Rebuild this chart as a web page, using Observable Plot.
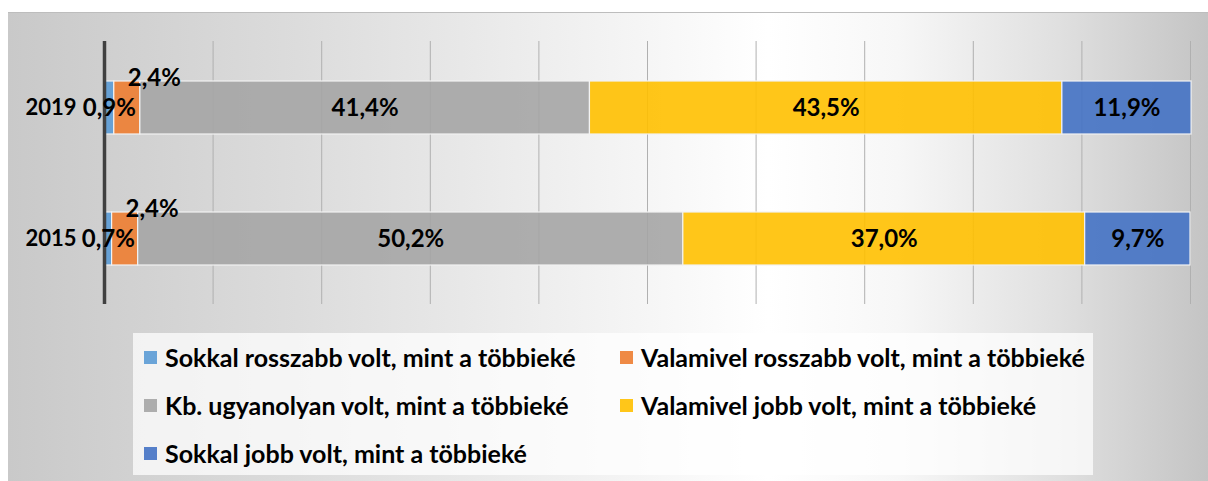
<!DOCTYPE html>
<html><head><meta charset="utf-8">
<script src="https://cdn.jsdelivr.net/npm/d3@7"></script>
<script src="https://cdn.jsdelivr.net/npm/@observablehq/plot@0.6"></script>
<style>
html,body{margin:0;padding:0;background:#fff;}
#wrap{position:relative;width:1208px;height:481px;overflow:hidden;font-family:Lato, sans-serif;}
#frame{position:absolute;left:8px;top:12px;width:1200px;height:469px;border-top:1px solid #bdbdbd;
  background:linear-gradient(to right,#c9c9c9 0px,#dcdcdc 290px,#f2f2f2 590px,#ffffff 760px,#f7f7f7 890px,#e0e0e0 1050px,#c4c4c4 1200px);}
#chart{position:absolute;left:0;top:0;}
#legend{position:absolute;left:133px;top:333px;width:949px;height:142px;padding-left:11px;
  background:rgba(255,255,255,0.72);display:grid;grid-template-columns:476px 1fr;grid-auto-rows:48px;align-items:center;}
.item{display:flex;align-items:center;font-weight:700;font-size:25px;color:#000;white-space:nowrap;}
.sw{width:13px;height:13px;margin-right:8px;flex:none;}
</style></head>
<body>
<div id="wrap"><div id="frame"></div><div id="chart"></div><div id="legend"></div></div>
<script>
const years = ["2019", "2015"];
const categories = [
  "Sokkal rosszabb volt, mint a többieké",
  "Valamivel rosszabb volt, mint a többieké",
  "Kb. ugyanolyan volt, mint a többieké",
  "Valamivel jobb volt, mint a többieké",
  "Sokkal jobb volt, mint a többieké"
];
const values2019 = [0.9, 2.4, 41.4, 43.5, 11.9];
const values2015 = [0.7, 2.4, 50.2, 37.0, 9.7];
const colors = ["#5B9BD5", "#ED7D31", "#A5A5A5", "#FFC000", "#4472C4"];
const xTicks = [0, 10, 20, 30, 40, 50, 60, 70, 80, 90, 100];

const valuesByYear = {"2019": values2019, "2015": values2015};
const data = years.flatMap(y => categories.map((c, i) => ({year: y, cat: c, value: valuesByYear[y][i]})));
const fmt = v => v.toFixed(1).replace(".", ",") + "%";
const labelFont = {fontSize: 24, fontWeight: 700, fill: "#000", fontFamily: "Lato"};

const chart = Plot.plot({
  width: 1208, height: 330,
  marginLeft: 104, marginRight: 18, marginTop: 41, marginBottom: 26,
  style: {background: "transparent", fontFamily: "Lato", color: "#000", overflow: "visible"},
  x: {domain: [0, 100], axis: null},
  y: {domain: years, paddingInner: 0.597, paddingOuter: 0.2985, label: null, axis: null},
  color: {domain: categories, range: colors},
  marks: [
    Plot.ruleX(xTicks.slice(1), {stroke: "#b0b0b0", strokeWidth: 1}),
    Plot.barX(data, Plot.stackX({x: "value", y: "year", fill: "cat", fillOpacity: 0.9, stroke: "#f2f2f2", strokeWidth: 1.2})),
    Plot.ruleX([0], {stroke: "#404040", strokeWidth: 3.5}),
    Plot.text(data, Plot.stackX({x: "value", y: "year", z: "cat",
      text: d => d.cat === categories[1] ? "" : fmt(d.value), ...labelFont})),
    Plot.text(data, Plot.stackX({x: "value", y: "year", z: "cat",
      text: d => d.cat === categories[1] ? fmt(d.value) : "", dx: 27, dy: -30, ...labelFont})),
    Plot.axisY({tickSize: 0, tickPadding: 28, fontSize: 22, fontWeight: 700, fontFamily: "Lato"})
  ]
});
document.getElementById("chart").appendChild(chart);

const legend = document.getElementById("legend");
categories.forEach((c, i) => {
  const item = document.createElement("div");
  item.className = "item";
  const sw = document.createElement("span");
  sw.className = "sw";
  sw.style.background = colors[i];
  sw.style.opacity = 0.9;
  item.appendChild(sw);
  item.appendChild(document.createTextNode(c));
  legend.appendChild(item);
});
</script>
</body></html>
